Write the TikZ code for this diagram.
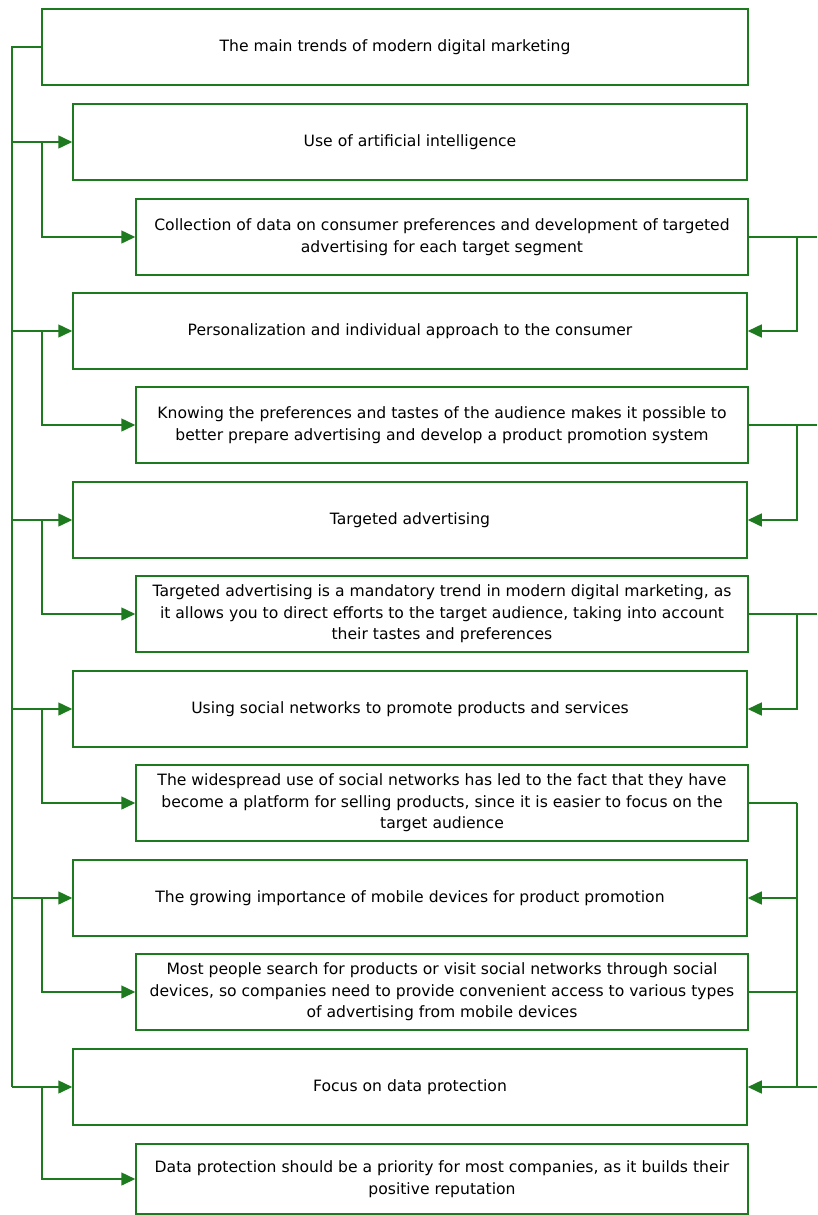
\documentclass[tikz,border=0pt]{standalone}
\usepackage{fontspec}
\setmainfont{DejaVu Sans}
\usetikzlibrary{arrows.meta}
\definecolor{lg}{RGB}{30,122,30}
\tikzset{
  box/.style={draw=lg, line width=1.5pt, rectangle, align=center, inner sep=0pt,
    font=\fontsize{15.6}{21.5}\selectfont, text=black},
  mainbox/.style={box, minimum width=674pt, minimum height=76pt},
  topbox/.style={box, minimum width=706pt, minimum height=76pt},
  subbox/.style={box, minimum width=612pt, minimum height=76pt},
  conn/.style={draw=lg, line width=1.5pt},
  arr/.style={conn, -{Triangle[length=14pt,width=13pt]}}
}
\begin{document}
\begin{tikzpicture}[x=1pt,y=-1pt]
\useasboundingbox (0,0) rectangle (817,1215);
\node[topbox] (b1) at (395,47) {The main trends of modern digital marketing};
\node[mainbox] (b2) at (410,142) {Use of artificial intelligence};
\node[subbox] (b3) at (442,237) {Collection of data on consumer preferences and development of targeted\\advertising for each target segment};
\node[mainbox] (b4) at (410,331) {Personalization and individual approach to the consumer};
\node[subbox] (b5) at (442,425) {Knowing the preferences and tastes of the audience makes it possible to\\better prepare advertising and develop a product promotion system};
\node[mainbox] (b6) at (410,520) {Targeted advertising};
\node[subbox] (b7) at (442,614) {Targeted advertising is a mandatory trend in modern digital marketing, as\\it allows you to direct efforts to the target audience, taking into account\\their tastes and preferences};
\node[mainbox] (b8) at (410,709) {Using social networks to promote products and services};
\node[subbox] (b9) at (442,803) {The widespread use of social networks has led to the fact that they have\\become a platform for selling products, since it is easier to focus on the\\target audience};
\node[mainbox] (b10) at (410,898) {The growing importance of mobile devices for product promotion};
\node[subbox] (b11) at (442,992) {Most people search for products or visit social networks through social\\devices, so companies need to provide convenient access to various types\\of advertising from mobile devices};
\node[mainbox] (b12) at (410,1087) {Focus on data protection};
\node[subbox, minimum height=70pt] (b13) at (442,1179) {Data protection should be a priority for most companies, as it builds their\\positive reputation};
% guide coordinates
\coordinate (L) at (12,0);
\coordinate (M) at (42,0);
\coordinate (R) at (797,0);
\coordinate (E) at (817,0);
% trunk
\draw[conn] (b1.west) -| (L |- b12.west);
% left arrows
\foreach \m/\s in {b2/b3,b4/b5,b6/b7,b8/b9,b10/b11,b12/b13}{
  \draw[arr] (L |- \m.west) -- (\m.west);
  \draw[arr] (M |- \m.west) |- (\s.west);
}
% right connectors
\foreach \s/\m in {b3/b4,b5/b6,b7/b8}{
  \draw[conn] (\s.east) -- (E |- \s.east);
  \draw[arr] (R |- \s.east) |- (\m.east);
}
\draw[conn] (b9.east) -- (R |- b9.east);
\draw[conn] (b11.east) -- (R |- b11.east);
\draw[conn] (R |- b9.east) -- (R |- b12.east);
\draw[arr] (R |- b10.east) -- (b10.east);
\draw[arr] (E |- b12.east) -- (b12.east);
\end{tikzpicture}
\end{document}
